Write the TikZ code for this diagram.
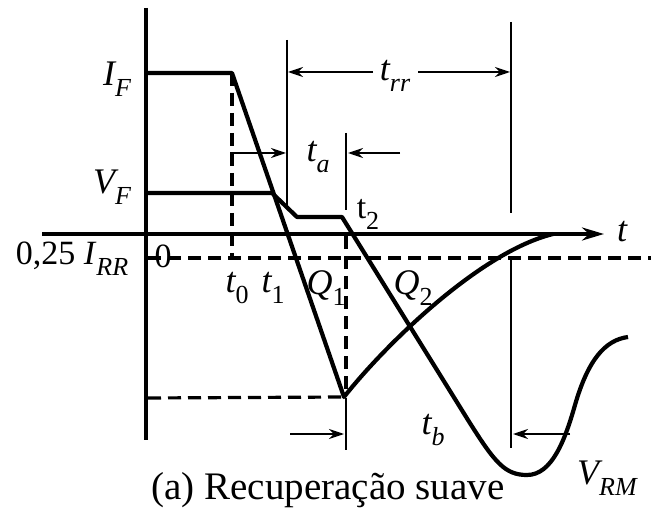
\documentclass[tikz,border=0pt]{standalone}
\usepackage{fontspec}
\setmainfont{Liberation Serif}
\usetikzlibrary{arrows.meta}
\newcommand\lbsub[1]{\raisebox{-0.32em}{\fontsize{26}{26}\selectfont #1}}
\begin{document}
\begin{tikzpicture}[x=1pt,y=-1pt,
  thickline/.style={line width=4.2pt,line join=round},
  thinline/.style={line width=1.4pt},
  dashline/.style={line width=3.2pt,dash pattern=on 13pt off 7pt},
  dimarrow/.style={line width=1.4pt,-{Stealth[length=15pt,width=10pt]}},
  lab/.style={font=\fontsize{36}{38}\selectfont\itshape,inner sep=0pt}]
\useasboundingbox (0,0) rectangle (651,513);
% key points
\coordinate (ifa) at (146,73);
\coordinate (ifb) at (232,73);
\coordinate (bot) at (344,397);
\coordinate (vfa) at (146,193);
\coordinate (vfb) at (272,193);
\coordinate (vpa) at (297,217);
\coordinate (vpb) at (342,217);
\coordinate (vst) at (468,420);
\coordinate (rend) at (553,234);
% dashed guides
\draw[dashline] (232,73) -- (232,258);
\draw[dashline] (148,258) -- (651,258);
\draw[dashline] (148,398) -- (bot);
\draw[dashline] (346,236) -- (346,396);
% thin vertical markers
\draw[thinline] (287,40) -- (287,207);
\draw[thinline] (346,133) -- (346,210);
\draw[thinline] (346,398) -- (346,450);
\draw[thinline] (511,22) -- (511,213);
\draw[thinline] (511,259) -- (511,448);
% axes
\draw[line width=4.2pt] (146,8) -- (146,440);
\draw[line width=3.8pt,-{Stealth[length=22pt,width=13pt]}] (42,234) -- (604,234);
% current I
\draw[thickline] (ifa) -- (ifb) -- (bot)
  .. controls (385,345) and (480,252) .. (rend);
% voltage V
\draw[thickline] (vfa) -- (vfb) -- (vpa) -- (vpb) -- (vst)
  .. controls (495,463) and (505,475) .. (527,475)
  .. controls (552,475) and (565,440) .. (575,405)
  .. controls (588,360) and (605,340) .. (628,337);
% dimension arrows
\draw[dimarrow] (373,72) -- (288,72);
\draw[dimarrow] (418,72) -- (510,72);
\draw[dimarrow] (230,153) -- (286,153);
\draw[dimarrow] (400,153) -- (348,153);
\draw[dimarrow] (290,434) -- (344,434);
\draw[dimarrow] (570,434) -- (513,434);
% labels
\node[lab] (lif) at (117,79) {I\lbsub{F}};
\node[lab] (lvf) at (112,187) {V\lbsub{F}};
\node[lab,font=\fontsize{34}{36}\selectfont] (lirr) at (72,259) {0,25 \textit{I}\lbsub{\textit{RR}}};
\node[lab,font=\fontsize{34}{36}\selectfont] (lzero) at (163,256) {0};
\node[lab] (lt) at (622,232) {t};
\node[lab] (ltrr) at (395,76) {t\lbsub{rr}};
\node[lab] (lta) at (318,157) {t\lbsub{a}};
\node[lab,font=\fontsize{34}{36}\selectfont] (lt2) at (368,214) {t\lbsub{2}};
\node[lab] (lt0) at (237,288) {t\lbsub{\upshape 0}};
\node[lab] (lt1) at (273,288) {t\lbsub{\upshape 1}};
\node[lab] (lq1) at (326,288) {Q\lbsub{\upshape 1}};
\node[lab] (lq2) at (413,288) {Q\lbsub{\upshape 2}};
\node[lab] (ltb) at (433,430) {t\lbsub{b}};
\node[lab] (lvrm) at (607,478) {V\lbsub{RM}};
\node[inner sep=0pt,font=\fontsize{39}{41}\selectfont] (cap) at (328,490) {(a) Recuperação suave};
\end{tikzpicture}
\end{document}
